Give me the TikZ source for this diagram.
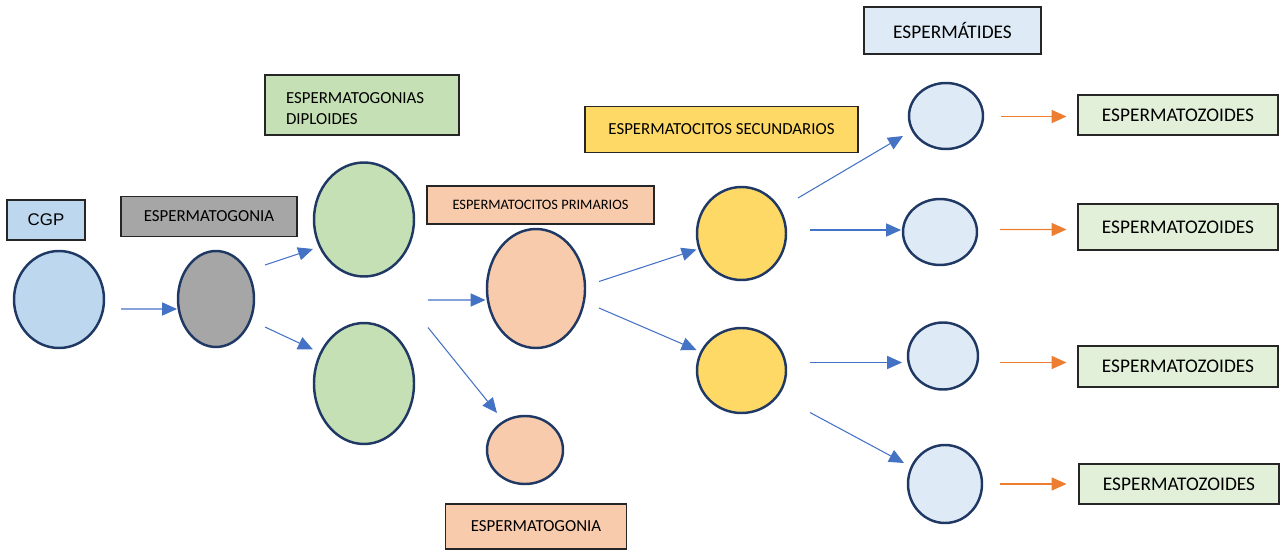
\documentclass[tikz,border=0pt]{standalone}
\usepackage{fontspec}
\setmainfont{Carlito}
\newfontfamily\arialfont{Liberation Sans}
\usepackage{tikz}
\usetikzlibrary{arrows.meta,shapes.geometric}

\definecolor{cgpblue}{HTML}{BDD7EE}
\definecolor{goniagrey}{HTML}{A6A6A6}
\definecolor{diplgreen}{HTML}{C5E0B4}
\definecolor{primsalmon}{HTML}{F8CBAD}
\definecolor{secyellow}{HTML}{FFD966}
\definecolor{tidblue}{HTML}{DEEBF7}
\definecolor{zoidgreen}{HTML}{E2F0D9}
\definecolor{cellline}{HTML}{1F3864}
\definecolor{arrblue}{HTML}{4472C4}
\definecolor{arrorange}{HTML}{ED7D31}

\tikzset{
  dims/.style 2 args={minimum width=#1*0.02cm, minimum height=#2*0.02cm},
  cell/.style={ellipse, draw=cellline, line width=1.4pt, inner sep=0pt},
  tag/.style={rectangle, draw=black!85, line width=0.75pt, inner sep=0pt},
  small/.style={font=\fontsize{9.6}{12}\selectfont},
  big/.style={font=\fontsize{11}{13}\selectfont},
  arr/.style={draw=arrblue, line width=0.6pt, -{Triangle[length=8.5pt,width=7.5pt]}},
  arro/.style={draw=arrorange, line width=0.6pt, -{Triangle[length=8.5pt,width=7.5pt]}}
}

\begin{document}
\begin{tikzpicture}[x=0.02cm, y=-0.02cm]
\useasboundingbox (0,0) rectangle (1281,554);

%labels
\node[tag, dims={78}{40}, fill=cgpblue, font=\arialfont\fontsize{9.6}{12}\selectfont] (lcgp) at (46,220) {CGP};
\node[tag, small, dims={176}{40}, fill=goniagrey] (lgonia) at (209,216.5) {ESPERMATOGONIA};
\node[tag, small, dims={194}{60}, fill=diplgreen, align=left, text width=3.04cm] (ldipl) at (362,105) {\rule{0pt}{10.7pt}ESPERMATOGONIAS\\DIPLOIDES};
\node[tag, dims={227}{38}, fill=primsalmon, font=\fontsize{8.2}{10}\selectfont] (lprim) at (540.5,205) {ESPERMATOCITOS PRIMARIOS};
\node[tag, small, dims={181}{45}, fill=primsalmon] (lgonb) at (536,526.5) {ESPERMATOGONIA};
\node[tag, small, dims={273}{46}, fill=secyellow] (lsec) at (721.5,129.5) {ESPERMATOCITOS SECUNDARIOS};
\node[tag, big, dims={177}{47}, fill=tidblue] (ltid) at (952.5,30.5) {ESPERM\'ATIDES};

%cells
\node[cell, dims={90}{97}, fill=cgpblue] (cgp) at (59,299.5) {};
\node[cell, dims={76}{96}, fill=goniagrey] (gonia) at (216,299) {};
\node[cell, dims={100}{114}, fill=diplgreen] (dtop) at (364,219.5) {};
\node[cell, dims={100}{121}, fill=diplgreen] (dbot) at (364,383.5) {};
\node[cell, dims={98}{119}, fill=primsalmon] (prim) at (536,288.5) {};
\node[cell, dims={76}{68}, fill=primsalmon] (gonb) at (525,450) {};
\node[cell, dims={89}{93}, fill=secyellow] (stop) at (741.5,233.5) {};
\node[cell, dims={89}{85}, fill=secyellow] (sbot) at (741.5,370.5) {};
\node[cell, dims={74}{66}, fill=tidblue] (tid1) at (946,116) {};
\node[cell, dims={74}{66}, fill=tidblue] (tid2) at (940,232) {};
\node[cell, dims={70}{67}, fill=tidblue] (tid3) at (943,356) {};
\node[cell, dims={74}{78}, fill=tidblue] (tid4) at (945,484) {};

%products
\node[tag, big, dims={200}{40}, fill=zoidgreen] (zoid1) at (1178,115) {ESPERMATOZOIDES};
\node[tag, big, dims={200}{46}, fill=zoidgreen] (zoid2) at (1178,227) {ESPERMATOZOIDES};
\node[tag, big, dims={200}{41}, fill=zoidgreen] (zoid3) at (1178,366.5) {ESPERMATOZOIDES};
\node[tag, big, dims={200}{40}, fill=zoidgreen] (zoid4) at (1179,484) {ESPERMATOZOIDES};

%free starts between the two green cells
\coordinate (fork1) at (428,300);
\coordinate (fork2) at (428,327.5);

%blue arrows
\draw[arr] ([shift={(62,9.5)}]cgp.center) -- ([shift={(-39,10)}]gonia.center);
\draw[arr] ([shift={(49,-34)}]gonia.center) -- ([shift={(-51,29.5)}]dtop.center);
\draw[arr] ([shift={(49,28)}]gonia.center) -- ([shift={(-51,-34)}]dbot.center);
\draw[arr] (fork1) -- ([shift={(-50.5,11.5)}]prim.center);
\draw[arr] (fork2) -- ([shift={(-28,-37)}]gonb.center);
\draw[arr] ([shift={(63,-7)}]prim.center) -- ([shift={(-45,16)}]stop.center);
\draw[arr] ([shift={(63,19.5)}]prim.center) -- ([shift={(-45,-20.5)}]sbot.center);
\draw[arr] ([shift={(56.5,-35.5)}]stop.center) -- ([shift={(-43,20)}]tid1.center);
\draw[arr] ([shift={(68.5,-3.5)}]stop.center) -- ([shift={(-39,-2)}]tid2.center);
\draw[arr] ([shift={(68.5,-8)}]sbot.center) -- ([shift={(-41,6.5)}]tid3.center);
\draw[arr] ([shift={(68.5,42)}]sbot.center) -- ([shift={(-41,-21)}]tid4.center);

%orange arrows
\draw[arro] ([shift={(55,0.5)}]tid1.center) -- ([shift={(-111.5,1.5)}]zoid1.center);
\draw[arro] ([shift={(60,-2.5)}]tid2.center) -- ([shift={(-111.5,2.5)}]zoid2.center);
\draw[arro] ([shift={(57,6.5)}]tid3.center) -- ([shift={(-111.5,-4)}]zoid3.center);
\draw[arro] ([shift={(55,0)}]tid4.center) -- ([shift={(-112.5,0)}]zoid4.center);
\end{tikzpicture}
\end{document}
